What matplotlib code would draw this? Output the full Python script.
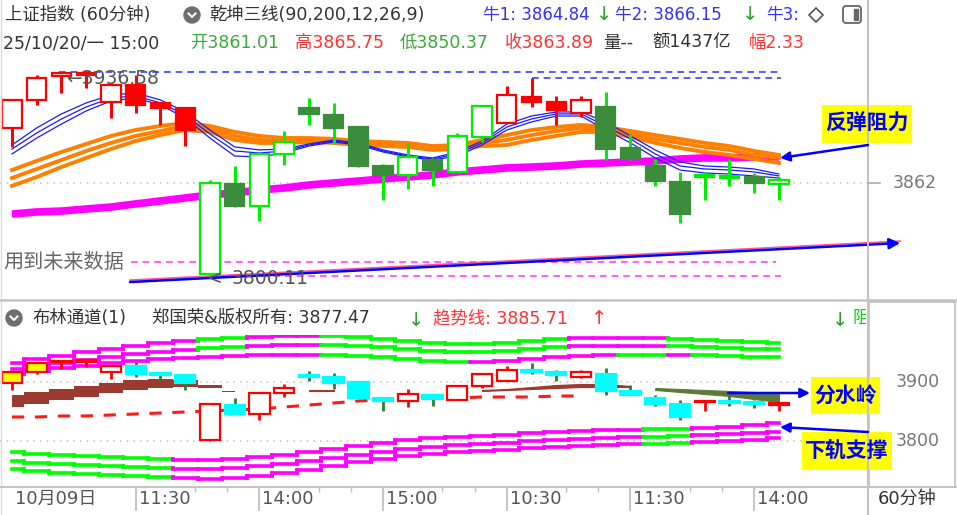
import numpy as np
import matplotlib
matplotlib.use('Agg')
import matplotlib.pyplot as plt
from matplotlib.patches import Rectangle, Circle, FancyBboxPatch, Polygon
from matplotlib.collections import LineCollection
from matplotlib.transforms import Bbox, blended_transform_factory, offset_copy

plt.rcParams['font.family'] = ['DejaVu Sans', 'Noto Sans CJK SC']

# ---------------- data ----------------
opens = [3899.0, 3917.8, 3933.9, 3934.6, 3916.4, 3927.9, 3915.8, 3912.4, 3801.0, 3861.3, 3846.5, 3881.5,
         3912.4, 3907.7, 3899.6, 3873.4, 3867.4, 3877.4, 3869.4, 3892.9, 3902.3, 3919.8, 3916.4, 3909.0,
         3913.1, 3885.5, 3873.4, 3862.6, 3866.0, 3866.7, 3866.0, 3861.01]
closes = [3917.8, 3932.6, 3935.9, 3935.9, 3927.9, 3914.4, 3912.4, 3897.6, 3862.0, 3846.5, 3881.5, 3889.5,
          3908.4, 3899.0, 3873.4, 3867.4, 3879.5, 3870.7, 3893.6, 3913.7, 3921.1, 3916.4, 3911.1, 3917.8,
          3884.8, 3878.1, 3863.3, 3841.1, 3867.4, 3865.3, 3862.0, 3863.89]
highs = [3917.8, 3934.6, 3936.58, 3936.3, 3929.2, 3934.6, 3915.8, 3913.1, 3864.0, 3873.4, 3881.5, 3896.9,
         3919.1, 3915.8, 3900.3, 3874.7, 3888.9, 3878.8, 3895.6, 3913.7, 3927.2, 3932.6, 3920.5, 3920.5,
         3923.2, 3894.9, 3878.1, 3869.4, 3869.4, 3878.1, 3868.7, 3865.75]
lows = [3886.2, 3914.4, 3922.5, 3925.8, 3905.7, 3909.0, 3901.0, 3886.8, 3800.11, 3845.8, 3836.4, 3874.1,
        3901.0, 3888.2, 3872.7, 3850.5, 3857.9, 3860.0, 3869.4, 3889.5, 3902.3, 3913.1, 3901.0, 3906.3,
        3877.4, 3877.4, 3860.0, 3835.1, 3850.5, 3860.0, 3855.3, 3850.37]
upper_style = ['rh', 'rh', 'rh', 'rh', 'rh', 'rf', 'rf', 'rf', 'gh', 'gf', 'gh', 'gh', 'gf', 'gf', 'gf', 'gf',
               'gh', 'gf', 'gh', 'gh', 'rh', 'rf', 'rf', 'rh', 'gf', 'gf', 'gf', 'gf', 'gh', 'gh', 'gf', 'gh']

blue1 = [3887.5, 3899.0, 3908.4, 3915.8, 3921.1, 3922.5, 3917.8, 3909.7, 3897.6, 3886.2, 3884.2, 3884.8,
         3888.2, 3890.9, 3888.9, 3884.2, 3880.8, 3878.8, 3882.8, 3890.2, 3901.6, 3907.0, 3909.7, 3909.7,
         3903.0, 3893.6, 3884.2, 3876.1, 3873.4, 3872.7, 3871.4, 3868.0]
blue2 = [3884.8, 3895.6, 3905.0, 3913.1, 3919.1, 3920.5, 3915.8, 3907.7, 3894.9, 3883.5, 3882.1, 3883.5,
         3887.5, 3890.2, 3888.2, 3883.5, 3880.1, 3878.1, 3881.5, 3888.9, 3899.6, 3905.0, 3908.4, 3908.4,
         3900.3, 3891.6, 3881.5, 3873.4, 3871.4, 3870.7, 3869.4, 3866.7]
blue3 = [3881.5, 3892.2, 3901.6, 3910.4, 3917.1, 3919.1, 3914.4, 3905.7, 3892.2, 3880.1, 3879.5, 3882.1,
         3886.8, 3889.5, 3887.5, 3882.8, 3879.5, 3877.4, 3880.1, 3887.5, 3897.6, 3903.0, 3907.0, 3907.0,
         3897.6, 3888.9, 3878.8, 3870.7, 3868.7, 3868.0, 3866.7, 3865.3]
orange1 = [3870.7, 3876.8, 3882.8, 3888.2, 3893.6, 3897.6, 3900.3, 3902.3, 3900.3, 3896.3, 3893.6, 3892.2,
           3892.2, 3891.6, 3890.2, 3889.5, 3888.9, 3886.8, 3887.5, 3890.9, 3894.2, 3897.6, 3899.6, 3901.0,
           3899.6, 3896.9, 3894.2, 3891.6, 3888.9, 3886.8, 3883.5, 3880.8]
orange2 = [3865.3, 3871.4, 3877.4, 3883.5, 3888.9, 3893.6, 3896.9, 3900.3, 3898.3, 3893.6, 3890.9, 3890.2,
           3890.9, 3890.2, 3888.9, 3888.2, 3887.5, 3885.5, 3886.2, 3888.9, 3890.9, 3894.2, 3896.9, 3899.0,
           3898.3, 3894.9, 3891.6, 3888.9, 3886.2, 3884.2, 3880.8, 3878.8]
orange3 = [3860.0, 3866.0, 3872.7, 3878.8, 3884.8, 3890.2, 3894.2, 3897.6, 3896.3, 3890.9, 3888.9, 3888.9,
           3889.5, 3888.9, 3887.5, 3886.8, 3886.2, 3884.2, 3884.8, 3886.8, 3887.5, 3890.9, 3893.6, 3896.3,
           3896.3, 3892.9, 3888.9, 3885.5, 3882.8, 3880.8, 3878.1, 3875.4]
magenta_ma = [3841.1, 3842.5, 3843.1, 3844.5, 3845.8, 3847.9, 3849.9, 3851.9, 3853.9, 3855.3, 3857.3, 3858.6,
              3860.6, 3862.0, 3863.3, 3864.7, 3866.0, 3867.4, 3869.4, 3870.7, 3872.1, 3872.7, 3873.4, 3874.7,
              3875.4, 3876.1, 3876.8, 3878.1, 3878.8, 3878.8, 3879.5, 3879.5]

# reference levels of the upper panel: (value, from index, to index)
blue_levels = [(3936.58, 1.9, 31.1), (3932.6, 21.0, 31.1)]
pink_levels = [(3808.9, 4.8, 30.9), (3799.4, 8.2, 31.1)]
trend_x = [4.77, 35.9]
trend_y = [3795.4, 3821.6]
high_label, low_label, last_label = '3936.58', '3800.11', '3862'

# Bollinger panel
ub1 = [3932.2, 3939.0, 3944.1, 3950.9, 3955.9, 3961.0, 3966.1, 3969.5, 3972.9, 3974.6, 3976.3, 3978.0,
       3978.0, 3978.0, 3976.3, 3972.9, 3969.5, 3966.1, 3964.4, 3964.4, 3966.1, 3969.5, 3972.9, 3974.6,
       3974.6, 3974.6, 3974.6, 3972.9, 3971.2, 3969.5, 3967.8, 3966.1]
ub2 = [3922.0, 3927.1, 3932.2, 3937.3, 3942.4, 3947.5, 3950.9, 3954.3, 3957.6, 3959.3, 3961.0, 3962.7,
       3962.7, 3962.7, 3961.0, 3959.3, 3955.9, 3952.6, 3950.9, 3950.9, 3952.6, 3955.9, 3959.3, 3961.0,
       3961.0, 3961.0, 3961.0, 3961.0, 3959.3, 3957.6, 3955.9, 3955.9]
ub3 = [3913.6, 3918.7, 3923.7, 3927.1, 3932.2, 3935.6, 3939.0, 3940.7, 3942.4, 3944.1, 3945.8, 3945.8,
       3945.8, 3945.8, 3944.1, 3942.4, 3939.0, 3935.6, 3933.9, 3933.9, 3935.6, 3939.0, 3942.4, 3944.1,
       3945.8, 3945.8, 3945.8, 3945.8, 3945.8, 3944.1, 3942.4, 3942.4]
lb1 = [3781.4, 3778.0, 3776.3, 3774.6, 3772.9, 3771.2, 3769.5, 3767.8, 3767.8, 3769.5, 3772.9, 3776.3,
       3781.4, 3786.4, 3791.5, 3796.6, 3801.7, 3805.1, 3806.8, 3808.5, 3810.2, 3813.6, 3815.3, 3817.0,
       3818.7, 3818.7, 3820.3, 3820.3, 3822.0, 3823.7, 3827.1, 3830.5]
lb2 = [3766.1, 3762.7, 3761.0, 3759.3, 3757.6, 3755.9, 3754.2, 3752.5, 3752.5, 3754.2, 3757.6, 3761.0,
       3766.1, 3771.2, 3776.3, 3781.4, 3786.4, 3789.8, 3793.2, 3794.9, 3796.6, 3800.0, 3801.7, 3803.4,
       3805.1, 3806.8, 3806.8, 3808.5, 3810.2, 3811.9, 3813.6, 3815.3]
lb3 = [3752.5, 3749.2, 3745.8, 3744.1, 3742.4, 3740.7, 3739.0, 3737.3, 3735.6, 3737.3, 3740.7, 3745.8,
       3750.9, 3757.6, 3764.4, 3769.5, 3774.6, 3778.0, 3781.4, 3783.1, 3784.8, 3788.1, 3789.8, 3791.5,
       3793.2, 3794.9, 3794.9, 3796.6, 3798.3, 3800.0, 3801.7, 3805.1]
ub12_col = 'mmmmmmmmggmmmggggggggggmmmmggggg'
ub3_col = 'mmmmmmmmmmmmmggggggmmmmmmggmgggg'
lb_col = 'gggggggmmmmmmmmmmmmmmmmmmmggmmmm'
trend_line = [3840.7, 3840.7, 3842.4, 3842.4, 3844.1, 3845.8, 3847.5, 3849.2, 3850.9, 3852.6, 3854.2, 3857.6,
              3861.0, 3864.4, 3867.8, 3869.5, 3871.2, 3872.9, 3872.9, 3874.6, 3874.6, 3874.6, 3876.3, 3876.3]
brown_top = [3878.0, 3883.1, 3888.1, 3893.2, 3898.3, 3903.4, 3905.1, 3903.4, 3894.9, 3884.8]
brown_bot = [3857.6, 3862.7, 3869.5, 3874.6, 3881.4, 3886.5, 3889.9, 3891.5, 3889.9, 3883.1]
nan = np.nan
mid2_top = [nan] * 12 + [3886.5, 3886.5] + [nan] * 5 + [3886.5, 3888.1, 3891.5, 3894.9, 3896.6, 3896.6,
                                                       3893.2, 3889.9, 3888.1, 3886.5, 3884.8, 3883.1, 3879.7]
mid2_bot = [nan] * 12 + [3884.8, 3884.8] + [nan] * 5 + [3884.8, 3886.5, 3888.1, 3889.9, 3891.5, 3891.5,
                                                       3891.5, 3886.5, 3883.1, 3879.7, 3876.3, 3871.2, 3866.1]
mid2_col = 'b' * 26 + 'o' * 6

tick_pos = [0, 5, 10, 15, 20, 25, 30]
tick_labels = ['10月09日', '11:30', '14:00', '15:00', '10:30', '11:30', '14:00']
minor_pos = [7.4, 8.7, 12.4, 13.7, 17.4, 18.7, 22.4, 23.7, 27.4, 28.7]

# ---------------- figure ----------------
W, H = 957, 515
fig = plt.figure(figsize=(W / 100, H / 100), dpi=100)
fig.patch.set_facecolor('white')
idx = np.arange(len(opens))

axU = fig.add_axes([0, 1 - 292 / H, 868 / W, 237 / H])
axU.set_xlim(-0.485, 34.60)
axU.set_ylim(3788.7, 3948.0)
axU.axis('off')

axL = fig.add_axes([0, 1 - 487 / H, 868 / W, 152 / H])
axL.set_xlim(-0.485, 34.60)
axL.set_ylim(3722.0, 3979.7)
axL.axis('off')

RED = '#ff0000'
GRN = '#00ee00'
DGRN = '#3b8c3b'
CYAN = '#00ffff'
MAG = '#ff00ff'


def candle(ax, i, o, h, l, c, face, edge, wick, width, wlw, minh):
    top, bot = max(o, c), min(o, c)
    if top - bot < minh:
        m = (top + bot) / 2
        top, bot = m + minh / 2, m - minh / 2
    ax.vlines(i, l, h, colors=wick, lw=wlw, zorder=3)
    ax.add_patch(Rectangle((i - width / 2, bot), width, top - bot, facecolor=face,
                           edgecolor=edge, lw=1.6, zorder=4))


# ---- upper panel ----
axU.axhline(3862, color='#c8c8c8', ls=(0, (1, 3)), lw=1.2, zorder=1)
for v, a, b in blue_levels:
    axU.hlines(v, a, b, colors='#3344ff', linestyles=(0, (4, 3)), lw=1.2, zorder=1)
for v, a, b in pink_levels:
    axU.hlines(v, a, b, colors='#ff44ff', linestyles=(0, (4, 3)), lw=1.2, zorder=1)

axU.plot(idx, magenta_ma, color=MAG, lw=5.5, zorder=2, solid_capstyle='butt')
for s in (orange1, orange2, orange3):
    axU.plot(idx, s, color='#ff8000', lw=2.8, zorder=2)
for s in (blue1, blue2, blue3):
    axU.plot(idx, s, color='#1a1aff', lw=0.9, zorder=2)

for i in idx:
    st = upper_style[i]
    if st == 'rh':
        f, e, w = 'white', RED, RED
    elif st == 'rf':
        f, e, w = RED, RED, RED
    elif st == 'gh':
        f, e, w = 'white', GRN, GRN
    else:
        f, e, w = DGRN, DGRN, GRN
    candle(axU, i, opens[i], highs[i], lows[i], closes[i], f, e, w, 0.78, 2.2, 1.5)

axU.plot(trend_x, [y + 1.3 for y in trend_y], color='#ff5599', lw=1.2, zorder=5, clip_on=False)
ann = axU.annotate('', xy=(trend_x[1], trend_y[1]), xytext=(trend_x[0], trend_y[0]),
                   arrowprops=dict(arrowstyle='-|>', color='#0000ff', lw=1.8, mutation_scale=16,
                                   shrinkA=0, shrinkB=0), annotation_clip=False, zorder=6)
ann.arrow_patch.set_clip_on(False)

# ---- lower panel ----
axL.axhline(3900, color='#c8c8c8', ls=(0, (1, 3)), lw=1.2, zorder=1)
axL.axhline(3800, color='#c8c8c8', ls=(0, (1, 3)), lw=1.2, zorder=1)
cmap = {'m': MAG, 'g': '#00ff00'}


def step_segments(vals, cols):
    segs, cs = [], []
    n = len(vals)
    for i, v in enumerate(vals):
        x0 = i - 0.5 if i > 0 else 0
        x1 = i + 0.5 if i < n - 1 else n - 1
        segs.append([(x0, v), (x1, v)])
        cs.append(cmap[cols[i]])
        if i > 0:
            segs.append([(i - 0.5, vals[i - 1]), (i - 0.5, v)])
            cs.append(cmap[cols[i]])
    return segs, cs


for vals, cols in ((ub1, ub12_col), (ub2, ub12_col), (ub3, ub3_col), (lb1, lb_col), (lb2, lb_col), (lb3, lb_col)):
    segs, cs = step_segments(vals, cols)
    axL.add_collection(LineCollection(segs, colors=cs, linewidths=2.6, capstyle='projecting', zorder=2))

axL.fill_between(idx[:len(brown_top)], brown_top, brown_bot, step='mid', color='#9a3a30', lw=0, zorder=2)
m2t = np.array(mid2_top)
m2b = np.array(mid2_bot)
colmap2 = {'b': '#9a3a30', 'o': '#5b7a3a'}
i = 0
n = len(m2t)
while i < n:
    if np.isnan(m2t[i]):
        i += 1
        continue
    j = i
    while j + 1 < n and not np.isnan(m2t[j + 1]) and mid2_col[j + 1] == mid2_col[i]:
        j += 1
    xs = idx[i:j + 1]
    if len(xs) == 1:
        xs2 = [xs[0] - 0.5, xs[0] + 0.5]
        axL.fill_between(xs2, [m2t[i]] * 2, [m2b[i]] * 2, color=colmap2[mid2_col[i]], lw=0.8,
                         ec=colmap2[mid2_col[i]], zorder=2)
    else:
        axL.fill_between(xs, m2t[i:j + 1], m2b[i:j + 1], color=colmap2[mid2_col[i]], lw=0.8,
                         ec=colmap2[mid2_col[i]], zorder=2)
    i = j + 1

axL.plot(idx[:len(trend_line)], trend_line, color='#ff1a1a', lw=2.2, ls=(0, (4, 3.5)), zorder=2)

for i in idx:
    o, c = opens[i], closes[i]
    if i < 4:
        f, e, w = '#ffff00', RED, RED
    elif c >= o:
        f, e, w = 'white', RED, RED
    else:
        f, e, w = CYAN, CYAN, '#2e7d32'
    candle(axL, i, o, highs[i], lows[i], c, f, e, w, 0.82, 2.0, 2.5)

# x-axis (time) below the lower panel
tr = blended_transform_factory(axL.transData, axL.transAxes)
axL.vlines(tick_pos[1:], -0.155, 0, colors='#c0c0c0', lw=1.3, transform=tr, clip_on=False)
axL.vlines(minor_pos, -0.035, 0, colors='#c0c0c0', lw=1.0, transform=tr, clip_on=False)
tro = offset_copy(tr, fig=fig, x=3, y=0, units='dots')
for p, lab in zip(tick_pos, tick_labels):
    axL.text(p, -0.08, lab, transform=tro, ha='left', va='center', fontsize=13, color='#555555',
             clip_on=False)

# ---------------- overlay (pixel coordinates) ----------------
ax0 = fig.add_axes([0, 0, 1, 1], zorder=10)
ax0.set_xlim(0, W)
ax0.set_ylim(H, 0)
ax0.axis('off')


def T(x, y, s, color, size=12.5, weight='normal', ha='left', clipx=None):
    t = ax0.text(x, y, s, color=color, fontsize=size, va='center', ha=ha, fontweight=weight)
    if clipx is not None:
        t.set_clip_box(Bbox.from_extents(0, 0, clipx, H))
        t.set_clip_on(True)
    return t


GRAYL = '#c4c4c4'
ax0.plot([868, 868], [0, H], color=GRAYL, lw=1.5)
ax0.plot([1, 1], [0, H], color='#dddddd', lw=1.0)
ax0.plot([0, W], [300, 300], color=GRAYL, lw=1.8)
ax0.plot([0, W], [487, 487], color=GRAYL, lw=1.5)
ax0.add_patch(Rectangle((869, 302), 86, 185, fill=False, ec=GRAYL, lw=1.3))
ax0.plot([868, 880], [183, 183], color='#aaaaaa', lw=1.2)

# header row 1
DARK = '#333333'
BLUE = '#3333ff'
GR2 = '#2e9e2e'
T(5, 15, '上证指数 (60分钟)', DARK)
ax0.add_patch(Circle((192, 15), 8, color='#6e6e6e'))
ax0.plot([188.5, 192, 195.5], [13.5, 17, 13.5], color='white', lw=1.5)
T(209, 15, '乾坤三线(90,200,12,26,9)', DARK)
T(483, 15, '牛1: 3864.84', BLUE, size=12)
T(596, 15, '↓', GR2, size=14)
T(615, 15, '牛2: 3866.15', BLUE, size=12)
T(742, 15, '↓', GR2, size=14)
T(766, 15, '牛3:', BLUE, size=12, clipx=805)
ax0.add_patch(Polygon([(816, 8), (823, 15), (816, 22), (809, 15)], closed=True, fill=False, ec='#555555', lw=1.2))
ax0.add_patch(FancyBboxPatch((843, 6), 18, 17, boxstyle='round,pad=0,rounding_size=3', fill=False,
                             ec='#666666', lw=1.3))
ax0.add_patch(Rectangle((854, 9), 4, 11, color='#666666'))

# header row 2
T(3, 43, '25/10/20/一 15:00', DARK)
T(190, 43, '开3861.01', '#3aaa3a')
T(295, 43, '高3865.75', '#ff3333')
T(400, 43, '低3850.37', '#3aaa3a')
T(505, 43, '收3863.89', '#ff3333')
T(603, 43, '量--', DARK)
T(652, 43, '额1437亿', DARK)
T(749, 43, '幅2.33', '#ff3333', clipx=808)

# upper panel labels
T(66, 78, '←' + high_label, '#555555', size=13.5)
T(207, 278, '<', '#555555', size=13.5)
T(232, 278, low_label, '#555555', size=13.5)
T(3, 263, '用到未来数据', '#666666', size=14.5)
T(893, 183, last_label, '#777777', size=12.5)

# lower panel header
ax0.add_patch(Circle((14, 318), 8, color='#6e6e6e'))
ax0.plot([10.5, 14, 17.5], [316.5, 320, 316.5], color='white', lw=1.5)
T(32, 318, '布林通道(1)', DARK)
T(152, 318, '郑国荣&版权所有: 3877.47', DARK)
T(408, 320, '↓', GR2, size=14)
T(433, 318, '趋势线: 3885.71', '#ff3333')
T(591, 318, '↑', '#ff3333', size=14)
T(832, 320, '↓', GR2, size=14)
T(852, 318, '阻', '#00dd00', clipx=866)
T(896, 382, '3900', '#777777', size=12.5)
T(896, 441, '3800', '#777777', size=12.5)
T(878, 499, '60分钟', DARK, size=13)

# annotation boxes
for (x, y, w, h, s) in ((822, 105, 90, 38, '反弹阻力'), (811, 377, 69, 37, '分水岭'), (802, 432, 90, 38, '下轨支撑')):
    ax0.add_patch(Rectangle((x, y), w, h, facecolor='#ffff00', ec='none'))
    T(x + w / 2, y + h / 2, s, '#0000ff', size=15, weight='bold', ha='center')

for (xy, xyt) in (((780, 158), (868, 145)), ((810, 393), (728, 393)), ((780, 427), (868, 432))):
    ax0.annotate('', xy=xy, xytext=xyt,
                 arrowprops=dict(arrowstyle='-|>', color='#0000ff', lw=1.8, mutation_scale=14,
                                 shrinkA=0, shrinkB=0))

fig.savefig('out.png', dpi=100, facecolor='white')
